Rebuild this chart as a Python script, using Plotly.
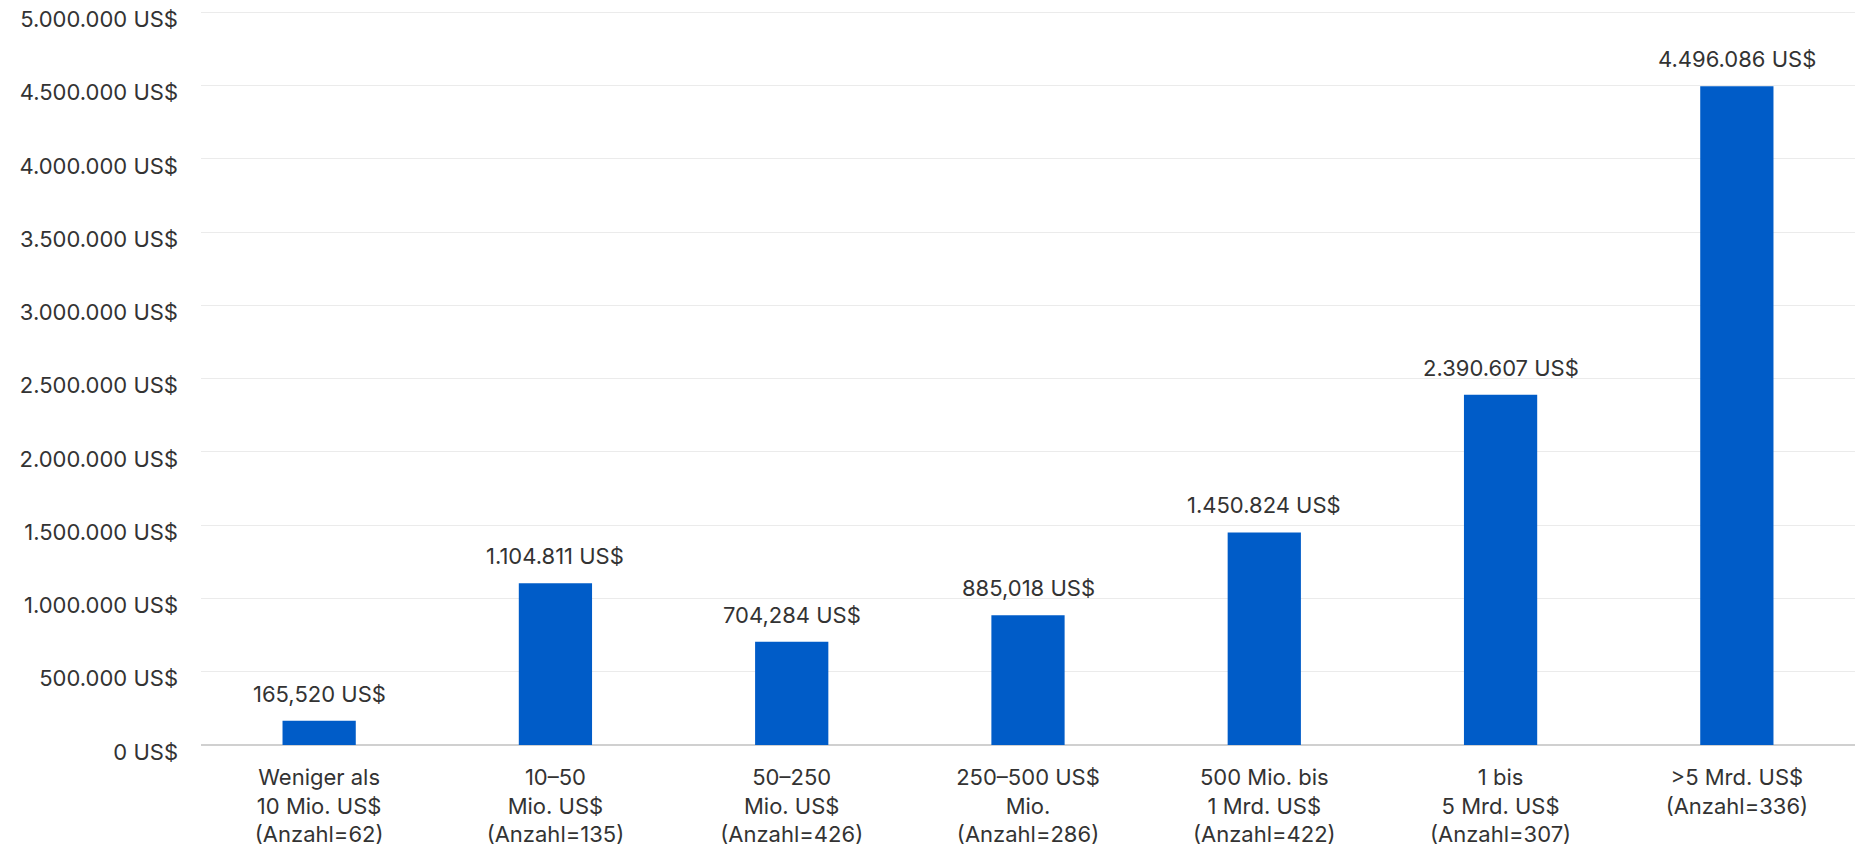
import plotly.graph_objects as go

# Umsatzklassen und Durchschnittswerte
categories = [
    "Weniger als<br>10 Mio. US$<br>(Anzahl=62)",
    "10–50<br>Mio. US$<br>(Anzahl=135)",
    "50–250<br>Mio. US$<br>(Anzahl=426)",
    "250–500 US$<br>Mio.<br>(Anzahl=286)",
    "500 Mio. bis<br>1 Mrd. US$<br>(Anzahl=422)",
    "1 bis<br>5 Mrd. US$<br>(Anzahl=307)",
    ">5 Mrd. US$<br>(Anzahl=336)",
]
values = [165520, 1104811, 704284, 885018, 1450824, 2390607, 4496086]
value_labels = [
    "165,520 US$",
    "1.104.811 US$",
    "704,284 US$",
    "885,018 US$",
    "1.450.824 US$",
    "2.390.607 US$",
    "4.496.086 US$",
]
tick_values = [0, 500000, 1000000, 1500000, 2000000, 2500000,
               3000000, 3500000, 4000000, 4500000, 5000000]
tick_labels = ["0 US$", "500.000 US$", "1.000.000 US$", "1.500.000 US$",
               "2.000.000 US$", "2.500.000 US$", "3.000.000 US$",
               "3.500.000 US$", "4.000.000 US$", "4.500.000 US$",
               "5.000.000 US$"]

FONT = "Inter, Roboto, sans-serif"
TEXT = "#333333"

fig = go.Figure(
    go.Bar(
        x=categories,
        y=values,
        marker=dict(color="#005cc8", line=dict(width=0)),
        width=0.31,
        hoverinfo="skip",
    )
)

for cat, val, lab in zip(categories, values, value_labels):
    fig.add_annotation(
        x=cat, y=val, text=lab, showarrow=False,
        xanchor="center", yanchor="bottom", yshift=12,
        font=dict(family=FONT, size=22, color=TEXT),
    )

fig.update_layout(
    width=1860, height=848,
    margin=dict(l=201, r=5, t=11, b=103),
    plot_bgcolor="white", paper_bgcolor="white",
    showlegend=False,
    font=dict(family=FONT, size=22, color=TEXT),
)
fig.update_xaxes(
    showgrid=False, showline=False, ticks="",
    tickfont=dict(family=FONT, size=22, color=TEXT),
    ticklabelstandoff=17,
    automargin=False,
)
fig.update_yaxes(
    range=[0, 5010000],
    tickvals=tick_values, ticktext=tick_labels,
    showgrid=True, gridcolor="#ebebeb", gridwidth=1,
    zeroline=True, zerolinecolor="#d0d0d0", zerolinewidth=2,
    showline=False, ticks="",
    tickfont=dict(family=FONT, size=22, color=TEXT),
    ticklabelstandoff=22,
    ticklabelshift=7,
    ticklabeloverflow="allow",
    automargin=False,
)

fig.write_html("out.html")
